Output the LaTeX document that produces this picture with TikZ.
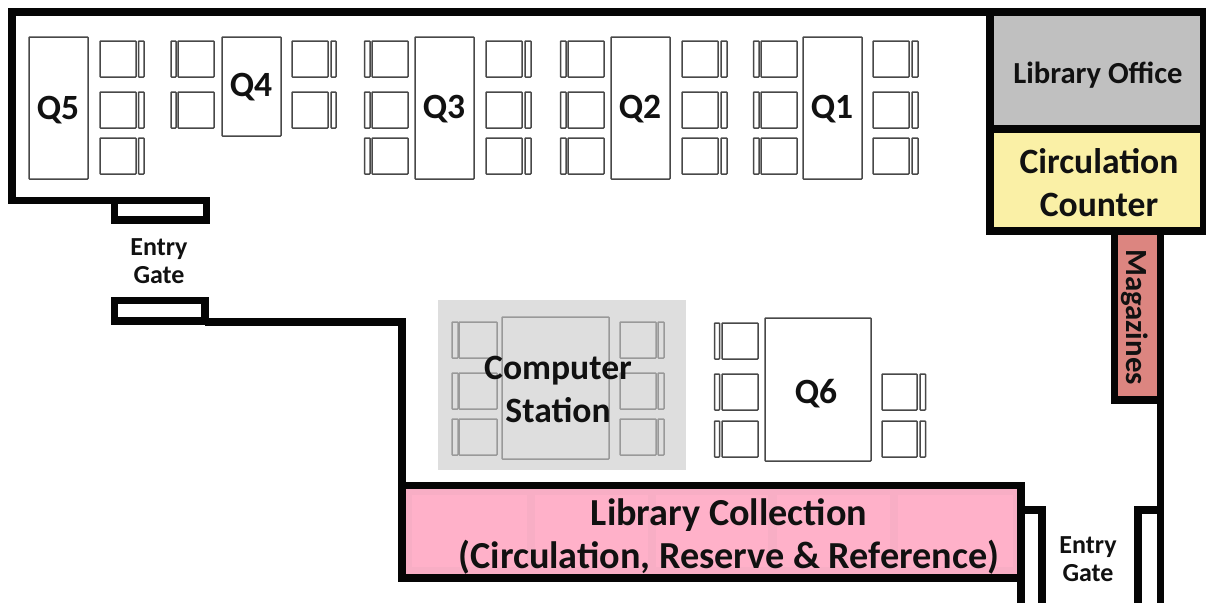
\documentclass[tikz,border=0pt]{standalone}
\usepackage{fontspec}
\setmainfont{Carlito}
\definecolor{wallc}{HTML}{050505}
\definecolor{linec}{HTML}{484848}
\definecolor{officec}{HTML}{C0C0C0}
\definecolor{counterc}{HTML}{FAF0A6}
\definecolor{magc}{HTML}{DC8580}
\definecolor{pinkc}{HTML}{FFB1C9}
\definecolor{pinkd}{HTML}{F8AEC5}
\definecolor{compc}{HTML}{DEDEDE}
\definecolor{compl}{HTML}{999999}
\definecolor{textc}{HTML}{111111}
\tikzset{
  wall/.style={draw=wallc,line width=7.2pt,line join=miter,line cap=butt},
  furn/.style={draw=linec,line width=1.5pt,fill=white,rounded corners=0.6pt},
  cfurn/.style={draw=compl,line width=1.5pt,fill=compc,rounded corners=0.6pt},
  lab/.style={inner sep=0pt,font=\bfseries,text=textc,align=center},
  big/.style={lab,font=\fontsize{35.5}{38}\selectfont\bfseries},
  mid/.style={lab,font=\fontsize{35.6}{43}\selectfont\bfseries},
  wide/.style={lab,font=\fontsize{38.2}{43}\selectfont\bfseries},
  small/.style={lab,font=\fontsize{26}{28}\selectfont\bfseries}
}
% chair: seat x1..x2, back x3..x4, top y
\newcommand{\chr}[6][furn]{%
  \draw[#1] (#2,#6) rectangle (#3,#6+36);
  \draw[#1] (#4,#6) rectangle (#5,#6+36);}
\begin{document}
\begin{tikzpicture}[x=1pt,y=-1pt]
\useasboundingbox (0,0) rectangle (1206,603);
\fill[white] (0,0) rectangle (1206,603);
% coloured rooms
\fill[officec] (990,12) rectangle (1204,129);
\fill[counterc] (990,129) rectangle (1204,231);
\fill[magc] (1114.5,231) rectangle (1160.5,400);
\fill[pinkd] (402,485.5) rectangle (1021,578);
\foreach \a/\b in {412/527,535/648,656/768,777/890,898/1013}
  \fill[pinkc] (\a,495) rectangle (\b,567);
\fill[compc] (438,300) rectangle (686,470);
% tables
\draw[furn] (29,37) rectangle (88,179);
\draw[furn] (222,37) rectangle (281,136);
\draw[furn] (415,37) rectangle (474,179);
\draw[furn] (611,37) rectangle (670,179);
\draw[furn] (803,37) rectangle (862,179);
\draw[furn] (765,318) rectangle (871,461);
\draw[cfurn] (502,317) rectangle (609,459);
% chairs Q5
\foreach \y in {41,92,138} {\chr{100}{136}{138.5}{144}{\y}}
% Q4
\foreach \y in {41,92} {\chr{178}{214}{171}{176}{\y} \chr{292}{328}{331}{336}{\y}}
% Q3, Q2, Q1
\foreach \y in {41,92,138} {
  \chr{372}{408}{364.5}{370}{\y} \chr{486}{522}{525}{531}{\y}
  \chr{568}{604}{560.5}{566}{\y} \chr{682}{718}{721}{727}{\y}
  \chr{761}{797}{753.5}{759}{\y} \chr{873}{909}{912}{918}{\y}
}
% computer station
\foreach \y in {322,373,419} {\chr[cfurn]{459}{497}{452}{458}{\y} \chr[cfurn]{620}{656}{658}{664}{\y}}
% Q6
\foreach \y in {323,374,421} {\chr{722}{758}{714.5}{719.5}{\y}}
\foreach \y in {374,421} {\chr{882}{917}{920}{925.5}{\y}}
% walls
\draw[wall] (990,12) -- (12,12) -- (12,200.5) -- (114.5,200.5);
\draw[wall] (114.5,200.5) rectangle (206.5,220);
\draw[wall] (114.5,300.5) rectangle (205,321);
\draw[wall] (205,322) -- (402,322) -- (402,485.5);
\draw[wall] (402,485.5) rectangle (1021,578);
\draw[wall] (990,12) rectangle (1203.5,129);
\draw[wall] (990,129) rectangle (1203.5,231);
\draw[wall] (1114.5,231) rectangle (1160.5,400);
\draw[wall] (1160.5,400) -- (1160.5,603);
\draw[wall] (1021,603) -- (1021,510) -- (1042,510) -- (1042,603);
\draw[wall] (1160.5,510) -- (1138,510) -- (1138,603);
% labels
\node[big] (q5) at (58,110) {Q5};
\node[big] (q4) at (251,87.5) {Q4};
\node[big] (q3) at (444,109.5) {Q3};
\node[big] (q2) at (640,109.5) {Q2};
\node[big] (q1) at (832,109.5) {Q1};
\node[big] (q6) at (816,393.5) {Q6};
\node[mid] (cs) at (558,389.5) {Computer\\Station};
\node[wide] (lc) at (729,536) {Library Collection\\(Circulation, Reserve \& Reference)};
\node[mid] (cc) at (1099,182.5) {Circulation\\Counter};
\node[lab,font=\fontsize{30.6}{32}\selectfont\bfseries] (lo) at (1098,75) {Library Office};
\node[lab,font=\fontsize{30.8}{32}\selectfont\bfseries,rotate=-90] (mg) at (1135,317) {Magazines};
\node[small] (eg1) at (159,261.5) {Entry\\Gate};
\node[small] (eg2) at (1088,559) {Entry\\Gate};
\end{tikzpicture}
\end{document}
